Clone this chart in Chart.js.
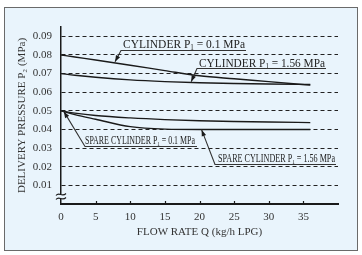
<!DOCTYPE html>
<html>
<head>
<meta charset="utf-8">
<script src="https://cdn.jsdelivr.net/npm/chart.js@4.4.0/dist/chart.umd.min.js"></script>
<style>
  html, body { margin: 0; padding: 0; background: #fff; }
  #wrap { position: relative; width: 362px; height: 255px; }
</style>
</head>
<body>
<div id="wrap"><canvas id="pressure-chart" width="362" height="255"></canvas></div>
<script>
// flow rate Q (kg/h LPG)
const flowRates = [0, 2, 5, 10, 15, 20, 25, 30, 36];
// delivery pressure P2 (MPa)
const cylinderLow = [0.080, 0.0789, 0.0773, 0.0745, 0.0716, 0.0688, 0.0672, 0.0657, 0.0638];
const cylinderHigh = [0.070, 0.0691, 0.0680, 0.0666, 0.0657, 0.0651, 0.0647, 0.0644, 0.0641];
const spareLow = [0.050, 0.0488, 0.0475, 0.0462, 0.0453, 0.0447, 0.0443, 0.0440, 0.0437];
const spareHigh = [0.050, 0.0480, 0.0455, 0.0415, 0.0402, 0.0400, 0.0400, 0.0400, 0.0400];
const xTicks = [0, 5, 10, 15, 20, 25, 30, 35];
const yTicks = [0.01, 0.02, 0.03, 0.04, 0.05, 0.06, 0.07, 0.08, 0.09];

const FONT = 'Liberation Serif, "DejaVu Serif", serif';
const INK = '#1a1a1a';

// label boxes with leader lines and arrows
const callouts = [
  { parts: ['CYLINDER P', '1', ' = 0.1 MPa'], x: 123, w: 122, base: 47.5, size: 12, line: [121, 246, 50.5], tip: [7.8, 0.0763] },
  { parts: ['CYLINDER P', '1', ' = 1.56 MPa'], x: 199, w: 126, base: 66.5, size: 12, line: [197, 326, 68.5], tip: [18.8, 0.0656] },
  { parts: ['SPARE CYLINDER P', '1', ' = 0.1 MPa'], x: 85, w: 110, base: 143.5, size: 11.5, line: [85, 197, 146.5], tip: [0.4, 0.0497] },
  { parts: ['SPARE CYLINDER P', '1', ' = 1.56 MPa'], x: 218, w: 117, base: 161.5, size: 11.5, line: [215, 336, 164.5], tip: [20.3, 0.0399] },
];

function toPoints(values) {
  return values.map((v, i) => ({ x: flowRates[i], y: v }));
}

function lineSet(values) {
  return {
    data: toPoints(values),
    borderColor: INK,
    borderWidth: 1.4,
    pointRadius: 0,
    fill: false,
    cubicInterpolationMode: 'monotone',
  };
}

const decorPlugin = {
  id: 'decor',
  beforeDraw(chart) {
    const ctx = chart.ctx;
    ctx.save();
    ctx.fillStyle = '#ffffff';
    ctx.fillRect(0, 0, chart.width, chart.height);
    ctx.fillStyle = '#e9f4fc';
    ctx.fillRect(4, 7, 353, 244);
    ctx.strokeStyle = '#6a6a6a';
    ctx.lineWidth = 1;
    ctx.strokeRect(4.5, 7.5, 353, 243);
    ctx.restore();
  },
  afterDraw(chart) {
    const ctx = chart.ctx;
    const xs = chart.scales.x;
    const ys = chart.scales.y;
    const area = chart.chartArea;

    ctx.save();
    // small inward tick marks on the flow axis
    ctx.strokeStyle = INK;
    ctx.lineWidth = 1.2;
    xTicks.forEach((v) => {
      if (v === 0) return;
      const px = Math.round(xs.getPixelForValue(v)) + 0.5;
      ctx.beginPath();
      ctx.moveTo(px, area.bottom - 3);
      ctx.lineTo(px, area.bottom);
      ctx.stroke();
    });

    // axis break on the pressure axis
    const bx = area.left;
    const by = area.bottom - 8;
    ctx.fillStyle = '#e9f4fc';
    ctx.fillRect(bx - 3, by - 1.5, 6, 4);
    ctx.lineWidth = 1.1;
    [by - 1.5, by + 2.5].forEach((yy) => {
      ctx.beginPath();
      ctx.moveTo(bx - 5, yy + 1);
      ctx.bezierCurveTo(bx - 2, yy - 3, bx + 1, yy + 3, bx + 5, yy - 1);
      ctx.stroke();
    });

    // callouts
    callouts.forEach((c) => {
      const font = (s) => s + 'px ' + FONT;
      ctx.font = font(c.size);
      const w0 = ctx.measureText(c.parts[0]).width;
      ctx.font = font(c.size * 0.62);
      const w1 = ctx.measureText(c.parts[1]).width;
      ctx.font = font(c.size);
      const w2 = ctx.measureText(c.parts[2]).width;
      const sx = c.w / (w0 + w1 + w2);

      ctx.save();
      ctx.translate(c.x, c.base);
      ctx.scale(sx, 1);
      ctx.fillStyle = '#222';
      ctx.textBaseline = 'alphabetic';
      ctx.textAlign = 'left';
      ctx.font = font(c.size);
      ctx.fillText(c.parts[0], 0, 0);
      ctx.font = font(c.size * 0.62);
      ctx.fillText(c.parts[1], w0, 2);
      ctx.font = font(c.size);
      ctx.fillText(c.parts[2], w0 + w1, 0);
      ctx.restore();

      const [lx0, lx1, ly] = c.line;
      const tx = xs.getPixelForValue(c.tip[0]);
      const ty = ys.getPixelForValue(c.tip[1]);
      ctx.strokeStyle = '#333';
      ctx.lineWidth = 1.1;
      ctx.beginPath();
      ctx.moveTo(lx1, ly);
      ctx.lineTo(lx0, ly);
      ctx.lineTo(tx, ty);
      ctx.stroke();

      // arrow head
      const ang = Math.atan2(ty - ly, tx - lx0);
      const len = 6.5;
      const half = 2.3;
      ctx.fillStyle = INK;
      ctx.beginPath();
      ctx.moveTo(tx, ty);
      ctx.lineTo(tx - len * Math.cos(ang) + half * Math.sin(ang), ty - len * Math.sin(ang) - half * Math.cos(ang));
      ctx.lineTo(tx - len * Math.cos(ang) - half * Math.sin(ang), ty - len * Math.sin(ang) + half * Math.cos(ang));
      ctx.closePath();
      ctx.fill();
    });
    ctx.restore();
  },
};

const ctx = document.getElementById('pressure-chart').getContext('2d');

new Chart(ctx, {
  type: 'line',
  data: {
    datasets: [
      lineSet(cylinderLow),
      lineSet(cylinderHigh),
      lineSet(spareLow),
      lineSet(spareHigh),
    ],
  },
  options: {
    responsive: false,
    animation: false,
    devicePixelRatio: 1,
    layout: {
      padding: { left: 16, right: 24, top: 27, bottom: 16 },
    },
    plugins: {
      legend: { display: false },
      tooltip: { enabled: false },
    },
    scales: {
      x: {
        type: 'linear',
        min: 0,
        max: 40,
        afterBuildTicks: (s) => {
          s.ticks = xTicks.map((v) => ({ value: v }));
        },
        afterFit: (s) => {
          s.height = 35;
        },
        grid: { display: false, drawTicks: false },
        border: { display: true, color: INK, width: 2 },
        ticks: {
          color: '#333',
          padding: 7,
          maxRotation: 0,
          autoSkip: false,
          font: { family: FONT, size: 11 },
          callback: (v) => String(v),
        },
        title: {
          display: true,
          text: 'FLOW RATE Q (kg/h LPG)',
          color: '#333',
          padding: 0,
          font: { family: FONT, size: 11 },
        },
      },
      y: {
        min: 0,
        max: 0.095,
        afterBuildTicks: (s) => {
          s.ticks = yTicks.map((v) => ({ value: v }));
        },
        afterFit: (s) => {
          s.width = 45;
        },
        grid: { color: '#222', lineWidth: 1, drawTicks: false },
        border: { display: true, color: INK, width: 1.5, dash: [4, 3] },
        ticks: {
          color: '#333',
          padding: 9,
          font: { family: FONT, size: 11 },
          callback: (v) => v.toFixed(2),
        },
        title: {
          display: true,
          text: 'DELIVERY PRESSURE P₂ (MPa)',
          color: '#333',
          padding: 0,
          font: { family: FONT, size: 11 },
        },
      },
    },
  },
  plugins: [decorPlugin],
});
</script>
</body>
</html>
